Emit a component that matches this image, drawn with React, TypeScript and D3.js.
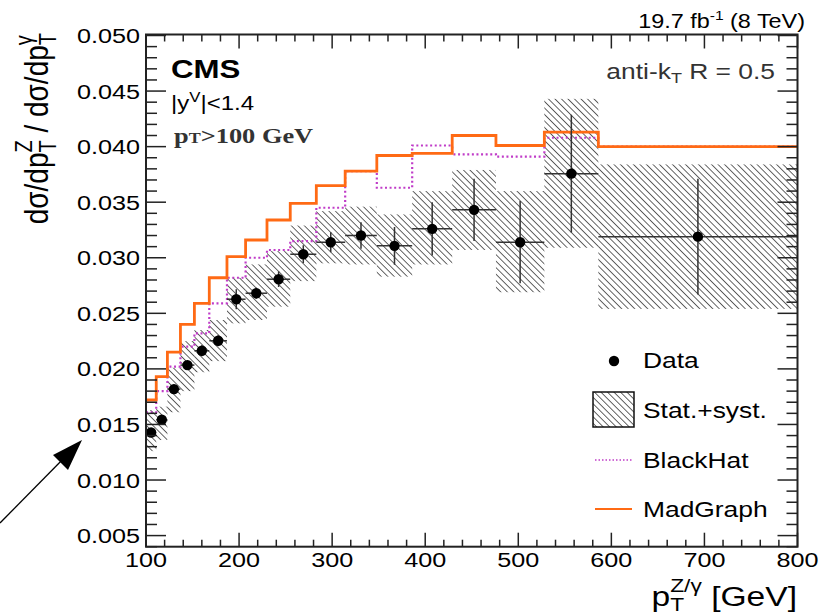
import React from "react";
import * as d3 from "d3";

// ---- data ----
const binEdges = [100, 111, 123, 137, 152, 168, 187, 207, 230, 255, 283, 314, 348, 386, 429, 476, 528, 586, 800];
const dataValues = [0.01428, 0.01542, 0.01818, 0.02034, 0.02163, 0.02253, 0.02627, 0.02681, 0.02807, 0.03032, 0.0314, 0.0320, 0.03107, 0.0326, 0.03431, 0.0314, 0.03757, 0.0319];
const statErr = [0.0003, 0.0003, 0.0004, 0.0004, 0.0005, 0.0005, 0.0009, 0.0005, 0.0007, 0.0008, 0.0009, 0.0012, 0.0017, 0.0024, 0.0028, 0.0037, 0.0053, 0.0052];
const totHigh = [0.0163, 0.0166, 0.0201, 0.0225, 0.0235, 0.0244, 0.0282, 0.0294, 0.0306, 0.0329, 0.0342, 0.0346, 0.0339, 0.0360, 0.0379, 0.0360, 0.0443, 0.0384];
const totLow = [0.0126, 0.0136, 0.0161, 0.0180, 0.0197, 0.0207, 0.0241, 0.0244, 0.0256, 0.0279, 0.0295, 0.0294, 0.0283, 0.0294, 0.0307, 0.0269, 0.0309, 0.0254];
const madGraph = [0.0172, 0.0193, 0.0215, 0.0240, 0.0259, 0.0282, 0.0301, 0.0316, 0.0334, 0.0349, 0.0365, 0.0378, 0.0392, 0.0394, 0.0410, 0.0401, 0.0413, 0.0400];
const blackHat = [0.0161, 0.0180, 0.0202, 0.0220, 0.0232, 0.0259, 0.0282, 0.0300, 0.0307, 0.0315, 0.0345, 0.0378, 0.0363, 0.0401, 0.0393, 0.0391, 0.0408, 0.0400];
const xTickValues = [100, 200, 300, 400, 500, 600, 700, 800];
const yTickValues = [0.005, 0.010, 0.015, 0.020, 0.025, 0.030, 0.035, 0.040, 0.045, 0.050];
const legendLabels = ["Data", "Stat.+syst.", "BlackHat", "MadGraph"];

const W = 819;
const H = 616;
const X0 = 146;
const X1 = 797.5;
const Y0 = 546.7;
const Y1 = 35.5;
const SX = 1.2; // horizontal stretch of the original figure
const ORANGE = "#ff6a14";
const MAGENTA = "#c03cc8";
const SANS = "'Liberation Sans', Arial, Helvetica, sans-serif";

function T(props: any) {
  const { x, y, anchor = "start", size = 21, weight = "normal", family = SANS, fill = "#000", children, rotate } = props;
  const tr = `translate(${x},${y}) scale(${SX},1)` + (rotate ? ` rotate(${rotate})` : "");
  return (
    <text transform={tr} textAnchor={anchor} fontSize={size} fontWeight={weight} fontFamily={family} fill={fill}>
      {children}
    </text>
  );
}

export default function App() {
  const x = d3.scaleLinear().domain([100, 800]).range([X0, X1]);
  const y = d3.scaleLinear().domain([0.004, 0.05]).range([Y0, Y1]);

  const bins = dataValues.map((v, i) => ({
    lo: binEdges[i],
    hi: binEdges[i + 1],
    c: (binEdges[i] + binEdges[i + 1]) / 2,
    v,
    e: statErr[i],
    th: totHigh[i],
    tl: totLow[i],
  }));

  const stepLine = d3
    .line<[number, number]>()
    .x((d) => x(d[0]))
    .y((d) => y(d[1]))
    .curve(d3.curveStepAfter);
  const stepPts = (vals: number[]) => {
    const p: [number, number][] = vals.map((v, i) => [binEdges[i], v]);
    p.push([binEdges[binEdges.length - 1], vals[vals.length - 1]]);
    return p;
  };

  const xMinor = d3.range(100, 801, 20);
  const yMinor = d3.range(0.004, 0.05001, 0.001);

  const arrowTip = [82, 440];
  const arrowTail = [0, 523];

  return (
    <svg width={W} height={H} style={{ position: "absolute", left: 0, top: 0, background: "#fff" }}>
      <defs>
        <pattern id="hatch" patternUnits="userSpaceOnUse" width={4.6} height={10} patternTransform="rotate(-45)">
          <line x1={0} y1={-1} x2={0} y2={11} stroke="#111" strokeWidth={1.3} />
        </pattern>
        <clipPath id="plotclip">
          <rect x={X0} y={Y1 - 1} width={X1 - X0} height={Y0 - Y1 + 1} />
        </clipPath>
      </defs>
      <rect width={W} height={H} fill="#fff" />

      {/* hatched total uncertainty */}
      <g clipPath="url(#plotclip)">
        {bins.map((b, i) => (
          <rect key={"h" + i} x={x(b.lo)} y={y(b.th)} width={x(b.hi) - x(b.lo)} height={y(b.tl) - y(b.th)} fill="url(#hatch)" />
        ))}
        <path d={stepLine(stepPts(blackHat)) || ""} fill="none" stroke={MAGENTA} strokeWidth={2.2} strokeDasharray="2 2.6" />
        <path d={stepLine(stepPts(madGraph)) || ""} fill="none" stroke={ORANGE} strokeWidth={2.8} />
        {bins.map((b, i) => (
          <g key={"d" + i} stroke="#333" strokeWidth={1.5}>
            <line x1={x(b.lo)} x2={x(b.hi)} y1={y(b.v)} y2={y(b.v)} />
            <line x1={x(b.c)} x2={x(b.c)} y1={y(b.v - b.e)} y2={y(b.v + b.e)} />
          </g>
        ))}
        {bins.map((b, i) => (
          <circle key={"p" + i} cx={x(b.c)} cy={y(b.v)} r={5.2} fill="#000" />
        ))}
      </g>

      {/* frame */}
      <rect x={X0} y={Y1 - 1} width={X1 - X0} height={Y0 - Y1 + 1} fill="none" stroke="#222" strokeWidth={2} />

      {/* ticks */}
      <g stroke="#222" strokeWidth={1.5}>
        {xMinor.map((v) => {
          const major = v % 100 === 0;
          const len = major ? 14 : 7;
          return (
            <g key={"xt" + v}>
              <line x1={x(v)} x2={x(v)} y1={Y0} y2={Y0 - len} />
              <line x1={x(v)} x2={x(v)} y1={Y1 - 1} y2={Y1 - 1 + len} />
            </g>
          );
        })}
        {yMinor.map((v, i) => {
          const major = Math.abs((v * 1000) % 5) < 0.01 || Math.abs((v * 1000) % 5 - 5) < 0.01;
          const len = major ? 20 : 11;
          return (
            <g key={"yt" + i}>
              <line x1={X0} x2={X0 + len} y1={y(v)} y2={y(v)} />
              <line x1={X1} x2={X1 - len} y1={y(v)} y2={y(v)} />
            </g>
          );
        })}
      </g>

      {/* tick labels */}
      {yTickValues.map((v) => (
        <T key={"yl" + v} x={140} y={y(v) + 7.5} anchor="end" size={21}>
          {d3.format(".3f")(v)}
        </T>
      ))}
      {xTickValues.map((v) => (
        <T key={"xl" + v} x={x(v)} y={567} anchor="middle" size={21}>
          {String(v)}
        </T>
      ))}

      {/* axis titles */}
      <T x={48} y={33} anchor="end" size={28} rotate={-90}>
        <tspan>dσ/dp</tspan>
        <tspan fontSize={20} dy={7}>T</tspan>
        <tspan fontSize={20} dx={-12.2} dy={-20}>Z</tspan>
        <tspan dy={13}> / dσ/dp</tspan>
        <tspan fontSize={20} dy={7}>T</tspan>
        <tspan fontSize={20} dx={-12.2} dy={-20}>γ</tspan>
      </T>
      <T x={797} y={606} anchor="end" size={24}>
        <tspan fontSize={28}>p</tspan>
        <tspan fontSize={19} dy={5}>T</tspan>
        <tspan fontSize={19} dx={-11.6} dy={-19}>Z/γ</tspan>
        <tspan fontSize={28} dy={14}> [GeV]</tspan>
      </T>

      {/* annotations */}
      <T x={805} y={28} anchor="end" size={19.5}>
        <tspan>19.7 fb</tspan>
        <tspan fontSize={13} dy={-8}>-1</tspan>
        <tspan dy={8}> (8 TeV)</tspan>
      </T>
      <T x={171} y={78} size={26} weight="bold">CMS</T>
      <T x={171} y={110} size={20}>
        <tspan>|y</tspan>
        <tspan fontSize={14} dy={-8}>V</tspan>
        <tspan dy={8}>|&lt;1.4</tspan>
      </T>
      <T x={174} y={143} size={22} weight="bold" family="'Liberation Serif', 'Times New Roman', serif" fill="#333">
        <tspan>p</tspan>
        <tspan fontSize={15}>T</tspan>
        <tspan>&gt;100 GeV</tspan>
      </T>
      <T x={775} y={79} anchor="end" size={22} fill="#333">
        <tspan>anti-k</tspan>
        <tspan fontSize={15} dy={4}>T</tspan>
        <tspan dy={-4}> R = 0.5</tspan>
      </T>

      {/* legend */}
      <circle cx={614} cy={361} r={5.2} fill="#000" />
      <T x={643} y={368} size={22}>{legendLabels[0]}</T>
      <rect x={593} y={392} width={41} height={35} fill="url(#hatch)" stroke="#111" strokeWidth={1.5} />
      <T x={643} y={418} size={22}>{legendLabels[1]}</T>
      <line x1={595} x2={632} y1={460} y2={460} stroke={MAGENTA} strokeWidth={1.6} strokeDasharray="1.5 2" />
      <T x={643} y={468} size={22}>{legendLabels[2]}</T>
      <line x1={595} x2={632} y1={509} y2={509} stroke={ORANGE} strokeWidth={2} />
      <T x={643} y={517} size={22}>{legendLabels[3]}</T>

      {/* arrow */}
      <line x1={arrowTail[0]} y1={arrowTail[1]} x2={arrowTip[0] - 14} y2={arrowTip[1] + 14} stroke="#000" strokeWidth={1.3} />
      <polygon points={`${arrowTip[0]},${arrowTip[1]} ${arrowTip[0] - 29},${arrowTip[1] + 15} ${arrowTip[0] - 14},${arrowTip[1] + 30}`} fill="#000" />
    </svg>
  );
}
